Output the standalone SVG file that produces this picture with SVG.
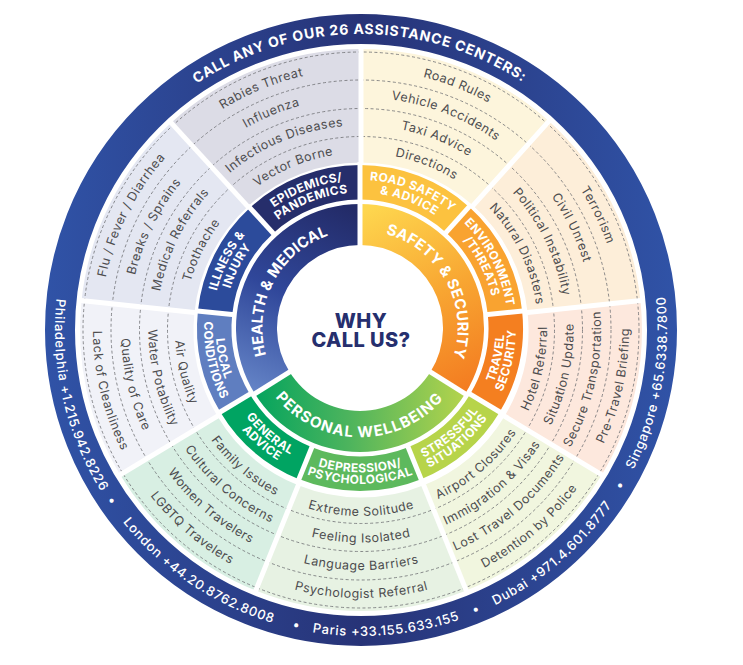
<svg xmlns="http://www.w3.org/2000/svg" xmlns:xlink="http://www.w3.org/1999/xlink" width="743" height="665" viewBox="0 0 743 665">
<defs>
<style>
text{font-family:Inter,'Liberation Sans','DejaVu Sans',sans-serif;text-anchor:middle}
.it{font-size:12.5px;fill:#4d4d4f;letter-spacing:0.5px}
.cat{font-size:12px;font-weight:700;fill:#fff;letter-spacing:0.4px}
.mn{font-size:15px;font-weight:700;fill:#fff;letter-spacing:0.2px}
.ph{font-size:13px;font-weight:500;fill:#fff;letter-spacing:0.7px}
.call{font-size:14px;font-weight:700;fill:#fff;letter-spacing:0.8px}
.why{font-size:20px;font-weight:800;fill:#262f6e;letter-spacing:0.4px}
.sec{fill:none;stroke-width:113.5}
.cb{fill:none;stroke-width:34.5}
.dash{fill:none;stroke:#6d6e72;stroke-width:0.8;stroke-dasharray:3 2.4}
.dv line{stroke:#fff;stroke-width:5}
</style>
<linearGradient id="gBlue" gradientUnits="userSpaceOnUse" x1="-316" y1="0" x2="316" y2="0">
<stop offset="0" stop-color="#3053a7"/><stop offset="0.5" stop-color="#273377"/><stop offset="1" stop-color="#3053a7"/>
</linearGradient>
<linearGradient id="gH" gradientUnits="userSpaceOnUse" x1="-10" y1="-120" x2="-100" y2="70">
<stop offset="0" stop-color="#232b68"/><stop offset="0.5" stop-color="#30479a"/><stop offset="1" stop-color="#6686c8"/>
</linearGradient>
<linearGradient id="gS" gradientUnits="userSpaceOnUse" x1="10" y1="-120" x2="100" y2="70">
<stop offset="0" stop-color="#fed64e"/><stop offset="0.5" stop-color="#f8a632"/><stop offset="1" stop-color="#f37a20"/>
</linearGradient>
<linearGradient id="gW" gradientUnits="userSpaceOnUse" x1="-110" y1="40" x2="110" y2="40">
<stop offset="0" stop-color="#00a35e"/><stop offset="0.45" stop-color="#4db45d"/><stop offset="1" stop-color="#b9d54b"/>
</linearGradient>
<path id="o296" d="M0,296A296,296 0 1 1 0,-296A296,296 0 1 1 0,296"/>
<path id="p306" d="M0,-306A306,306 0 1 0 0,306A306,306 0 1 0 0,-306"/>
<path id="a1" d="M0,260.5A260.5,260.5 0 1 1 0,-260.5A260.5,260.5 0 1 1 0,260.5"/>
<path id="b1" d="M0,232.5A232.5,232.5 0 1 1 0,-232.5A232.5,232.5 0 1 1 0,232.5"/>
<path id="c1" d="M0,204.5A204.5,204.5 0 1 1 0,-204.5A204.5,204.5 0 1 1 0,204.5"/>
<path id="d1" d="M0,177A177,177 0 1 1 0,-177A177,177 0 1 1 0,177"/>
<path id="a2" d="M0,-268A268,268 0 1 0 0,268A268,268 0 1 0 0,-268"/>
<path id="b2" d="M0,-240A240,240 0 1 0 0,240A240,240 0 1 0 0,-240"/>
<path id="c2" d="M0,-212.5A212.5,212.5 0 1 0 0,212.5A212.5,212.5 0 1 0 0,-212.5"/>
<path id="d2" d="M0,-186A186,186 0 1 0 0,186A186,186 0 1 0 0,-186"/>
<path id="m1" d="M0,97.7A97.7,97.7 0 1 1 0,-97.7A97.7,97.7 0 1 1 0,97.7"/>
<path id="m2" d="M0,-109.3A109.3,109.3 0 1 0 0,109.3A109.3,109.3 0 1 0 0,-109.3"/>
<path id="k1" d="M0,148A148,148 0 1 1 0,-148A148,148 0 1 1 0,148"/>
<path id="k2" d="M0,135.5A135.5,135.5 0 1 1 0,-135.5A135.5,135.5 0 1 1 0,135.5"/>
<path id="k3" d="M0,-144.35A144.35,144.35 0 1 0 0,144.35A144.35,144.35 0 1 0 0,-144.35"/>
<path id="k4" d="M0,-155.85A155.85,155.85 0 1 0 0,155.85A155.85,155.85 0 1 0 0,-155.85"/>
</defs>

<g id="outer-ring" transform="translate(361,330)">
<circle r="301" fill="none" stroke="url(#gBlue)" stroke-width="30"/>
<text class="call"><textPath href="#o296" xlink:href="#o296" startOffset="928">CALL ANY OF OUR 26 ASSISTANCE CENTERS:</textPath></text>
<text class="ph"><textPath href="#p306" xlink:href="#p306" startOffset="550.09">Philadelphia +1.215.942.8226</textPath></text>
<text class="ph"><textPath href="#p306" xlink:href="#p306" startOffset="664.38">•</textPath></text>
<text class="ph"><textPath href="#p306" xlink:href="#p306" startOffset="779.74">London +44.20.8762.8008</textPath></text>
<text class="ph"><textPath href="#p306" xlink:href="#p306" startOffset="895.1">•</textPath></text>
<text class="ph"><textPath href="#p306" xlink:href="#p306" startOffset="986.96">Paris +33.155.633.155</textPath></text>
<text class="ph"><textPath href="#p306" xlink:href="#p306" startOffset="1080.42">•</textPath></text>
<text class="ph"><textPath href="#p306" xlink:href="#p306" startOffset="1177.63">Dubai +971.4.601.8777</textPath></text>
<text class="ph"><textPath href="#p306" xlink:href="#p306" startOffset="1276.43">•</textPath></text>
<text class="ph"><textPath href="#p306" xlink:href="#p306" startOffset="1385.91">Singapore +65.6338.7800</textPath></text>
</g>

<g id="items" transform="translate(361,330)">
<g id="epidemics-items">
<circle class="sec" r="224.25" stroke="#dcdce6" stroke-dasharray="166.34 2000" transform="rotate(227.5)"/>
</g>
<g id="illness-items">
<circle class="sec" r="224.25" stroke="#e4e7f2" stroke-dasharray="162.43 2000" transform="rotate(186)"/>
</g>
<g id="local-items">
<circle class="sec" r="224.25" stroke="#f1f2f8" stroke-dasharray="144.82 2000" transform="rotate(149)"/>
</g>
<g id="general-items">
<circle class="sec" r="224.25" stroke="#d8efe3" stroke-dasharray="144.82 2000" transform="rotate(112)"/>
</g>
<g id="depression-items">
<circle class="sec" r="224.25" stroke="#e7f2e3" stroke-dasharray="172.21 2000" transform="rotate(68)"/>
</g>
<g id="stressful-items">
<circle class="sec" r="224.25" stroke="#f1f6df" stroke-dasharray="144.82 2000" transform="rotate(31)"/>
</g>
<g id="travel-items">
<circle class="sec" r="224.25" stroke="#fde8dd" stroke-dasharray="144.82 2000" transform="rotate(-6)"/>
</g>
<g id="environment-items">
<circle class="sec" r="224.25" stroke="#fdeed9" stroke-dasharray="164.38 2000" transform="rotate(-48)"/>
</g>
<g id="road-items">
<circle class="sec" r="224.25" stroke="#fdf5dc" stroke-dasharray="164.38 2000" transform="rotate(-90)"/>
</g>
<g id="dashes">
<circle class="dash" r="193.5"/><circle class="dash" r="221.5"/><circle class="dash" r="250"/><circle class="dash" r="278"/>
</g>
<g class="dv" id="dividers-outer">
<line y1="-165" y2="-284"/>
<line y1="-165" y2="-284" transform="rotate(42)"/>
<line y1="-165" y2="-284" transform="rotate(84)"/>
<line y1="-165" y2="-284" transform="rotate(121)"/>
<line y1="-165" y2="-284" transform="rotate(158)"/>
<line y1="-165" y2="-284" transform="rotate(202)"/>
<line y1="-165" y2="-284" transform="rotate(239)"/>
<line y1="-165" y2="-284" transform="rotate(276)"/>
<line y1="-165" y2="-284" transform="rotate(317.5)"/>
</g>
<g id="item-labels">
<text class="it"><textPath href="#a1" xlink:href="#a1" startOffset="716.09">Rabies Threat</textPath></text>
<text class="it"><textPath href="#b1" xlink:href="#b1" startOffset="639.12">Influenza</textPath></text>
<text class="it"><textPath href="#c1" xlink:href="#c1" startOffset="562.15">Infectious Diseases</textPath></text>
<text class="it"><textPath href="#d1" xlink:href="#d1" startOffset="486.55">Vector Borne</textPath></text>
<text class="it"><textPath href="#a1" xlink:href="#a1" startOffset="529.68">Flu / Fever / Diarrhea</textPath></text>
<text class="it"><textPath href="#b1" xlink:href="#b1" startOffset="472.74">Breaks / Sprains</textPath></text>
<text class="it"><textPath href="#c1" xlink:href="#c1" startOffset="415.81">Medical Referrals</textPath></text>
<text class="it"><textPath href="#d1" xlink:href="#d1" startOffset="359.9">Toothache</textPath></text>
<text class="it"><textPath href="#a1" xlink:href="#a1" startOffset="916.14">Road Rules</textPath></text>
<text class="it"><textPath href="#b1" xlink:href="#b1" startOffset="817.66">Vehicle Accidents</textPath></text>
<text class="it"><textPath href="#c1" xlink:href="#c1" startOffset="719.19">Taxi Advice</textPath></text>
<text class="it"><textPath href="#d1" xlink:href="#d1" startOffset="622.48">Directions</textPath></text>
<text class="it"><textPath href="#a1" xlink:href="#a1" startOffset="1109.37">Terrorism</textPath></text>
<text class="it"><textPath href="#b1" xlink:href="#b1" startOffset="990.13">Civil Unrest</textPath></text>
<text class="it"><textPath href="#c1" xlink:href="#c1" startOffset="870.88">Political Instability</textPath></text>
<text class="it"><textPath href="#d1" xlink:href="#d1" startOffset="753.77">Natural Disasters</textPath></text>
<text class="it"><textPath href="#a2" xlink:href="#a2" startOffset="484.12">Lack of Cleanliness</textPath></text>
<text class="it"><textPath href="#b2" xlink:href="#b2" startOffset="433.54">Quality of Care</textPath></text>
<text class="it"><textPath href="#c2" xlink:href="#c2" startOffset="383.86">Water Potability</textPath></text>
<text class="it"><textPath href="#d2" xlink:href="#d2" startOffset="335.99">Air Quality</textPath></text>
<text class="it"><textPath href="#a2" xlink:href="#a2" startOffset="1204.45">Pre-Travel Briefing</textPath></text>
<text class="it"><textPath href="#b2" xlink:href="#b2" startOffset="1078.61">Secure Transportation</textPath></text>
<text class="it"><textPath href="#c2" xlink:href="#c2" startOffset="955.02">Situation Update</textPath></text>
<text class="it"><textPath href="#d2" xlink:href="#d2" startOffset="835.92">Hotel Referral</textPath></text>
<text class="it"><textPath href="#a2" xlink:href="#a2" startOffset="1031.38">Detention by Police</textPath></text>
<text class="it"><textPath href="#b2" xlink:href="#b2" startOffset="923.63">Lost Travel Documents</textPath></text>
<text class="it"><textPath href="#c2" xlink:href="#c2" startOffset="817.79">Immigration &amp; Visas</textPath></text>
<text class="it"><textPath href="#d2" xlink:href="#d2" startOffset="715.81">Airport Closures</textPath></text>
<text class="it"><textPath href="#a2" xlink:href="#a2" startOffset="841.95">Psychologist Referral</textPath></text>
<text class="it"><textPath href="#b2" xlink:href="#b2" startOffset="753.98">Language Barriers</textPath></text>
<text class="it"><textPath href="#c2" xlink:href="#c2" startOffset="667.59">Feeling Isolated</textPath></text>
<text class="it"><textPath href="#d2" xlink:href="#d2" startOffset="584.34">Extreme Solitude</textPath></text>
<text class="it"><textPath href="#a2" xlink:href="#a2" startOffset="652.51">LGBTQ Travelers</textPath></text>
<text class="it"><textPath href="#b2" xlink:href="#b2" startOffset="584.34">Women Travelers</textPath></text>
<text class="it"><textPath href="#c2" xlink:href="#c2" startOffset="517.38">Cultural Concerns</textPath></text>
<text class="it"><textPath href="#d2" xlink:href="#d2" startOffset="452.86">Family Issues</textPath></text>
</g>
</g>

<g id="inner" transform="translate(360,328)">
<g id="health-medical">
<path fill="url(#gH)" d="M-105.16,65.71A124,124 0 0 1 0,-124L0,-83A83,83 0 0 0 -70.39,43.98Z"/>
<text class="mn"><textPath href="#m1" xlink:href="#m1" startOffset="200">HEALTH &amp; MEDICAL</textPath></text>
</g>
<g id="safety-security">
<path fill="url(#gS)" d="M0,-124A124,124 0 0 1 105.16,65.71L70.39,43.98A83,83 0 0 0 0,-83Z"/>
<text class="mn"><textPath href="#m1" xlink:href="#m1" startOffset="411">SAFETY &amp; SECURITY</textPath></text>
</g>
<g id="personal-wellbeing">
<path fill="url(#gW)" d="M105.16,65.71A124,124 0 0 1 -105.16,65.71L-70.39,43.98A83,83 0 0 0 70.39,43.98Z"/>
<text class="mn" style="letter-spacing:1.1px"><textPath href="#m2" xlink:href="#m2" startOffset="342.42">PERSONAL WELLBEING</textPath></text>
</g>
<g id="epidemics">
<circle class="cb" r="145.75" stroke="#262e6b" stroke-dasharray="108.11 2000" transform="rotate(227.5)"/>
<text class="cat"><textPath href="#k1" xlink:href="#k1" startOffset="410.07">EPIDEMICS/</textPath></text>
<text class="cat"><textPath href="#k2" xlink:href="#k2" startOffset="375.43">PANDEMICS</textPath></text>
</g>
<g id="illness-injury">
<circle class="cb" r="145.75" stroke="#2c4b9b" stroke-dasharray="105.57 2000" transform="rotate(186)"/>
<text class="cat"><textPath href="#k1" xlink:href="#k1" startOffset="301.58">ILLNESS &amp;</textPath></text>
<text class="cat"><textPath href="#k2" xlink:href="#k2" startOffset="276.1">INJURY</textPath></text>
</g>
<g id="local-conditions">
<circle class="cb" r="145.75" stroke="#5f7ec0" stroke-dasharray="94.12 2000" transform="rotate(149)"/>
<text class="cat"><textPath href="#k3" xlink:href="#k3" startOffset="258.24">LOCAL</textPath></text>
<text class="cat"><textPath href="#k4" xlink:href="#k4" startOffset="278.81">CONDITIONS</textPath></text>
</g>
<g id="general-advice">
<circle class="cb" r="145.75" stroke="#00a462" stroke-dasharray="94.12 2000" transform="rotate(112)"/>
<text class="cat"><textPath href="#k3" xlink:href="#k3" startOffset="351.45">GENERAL</textPath></text>
<text class="cat"><textPath href="#k4" xlink:href="#k4" startOffset="379.45">ADVICE</textPath></text>
</g>
<g id="depression">
<circle class="cb" r="145.75" stroke="#5db95d" stroke-dasharray="111.93 2000" transform="rotate(68)"/>
<text class="cat"><textPath href="#k3" xlink:href="#k3" startOffset="453.49">DEPRESSION/</textPath></text>
<text class="cat"><textPath href="#k4" xlink:href="#k4" startOffset="489.62">PSYCHOLOGICAL</textPath></text>
</g>
<g id="stressful-situations">
<circle class="cb" r="145.75" stroke="#b7d44a" stroke-dasharray="94.12 2000" transform="rotate(31)"/>
<text class="cat"><textPath href="#k3" xlink:href="#k3" startOffset="555.53">STRESSFUL</textPath></text>
<text class="cat"><textPath href="#k4" xlink:href="#k4" startOffset="599.78">SITUATIONS</textPath></text>
</g>
<g id="travel-security">
<circle class="cb" r="145.75" stroke="#f47f20" stroke-dasharray="94.12 2000" transform="rotate(-6)"/>
<text class="cat"><textPath href="#k3" xlink:href="#k3" startOffset="648.74">TRAVEL</textPath></text>
<text class="cat"><textPath href="#k4" xlink:href="#k4" startOffset="700.43">SECURITY</textPath></text>
</g>
<g id="environment-threats">
<circle class="cb" r="145.75" stroke="#f9a330" stroke-dasharray="106.84 2000" transform="rotate(-48)"/>
<text class="cat"><textPath href="#k1" xlink:href="#k1" startOffset="627.69">ENVIRONMENT</textPath></text>
<text class="cat"><textPath href="#k2" xlink:href="#k2" startOffset="574.68">/THREATS</textPath></text>
</g>
<g id="road-safety">
<circle class="cb" r="145.75" stroke="#fcc23f" stroke-dasharray="106.84 2000" transform="rotate(-90)"/>
<text class="cat"><textPath href="#k1" xlink:href="#k1" startOffset="519.2">ROAD SAFETY</textPath></text>
<text class="cat"><textPath href="#k2" xlink:href="#k2" startOffset="475.35">&amp; ADVICE</textPath></text>
</g>
<g class="dv" id="dividers-inner">
<line y1="-126" y2="-166"/>
<line y1="-126" y2="-166" transform="rotate(42)"/>
<line y1="-126" y2="-166" transform="rotate(84)"/>
<line y1="-126" y2="-166" transform="rotate(121)"/>
<line y1="-126" y2="-166" transform="rotate(158)"/>
<line y1="-126" y2="-166" transform="rotate(202)"/>
<line y1="-126" y2="-166" transform="rotate(239)"/>
<line y1="-126" y2="-166" transform="rotate(276)"/>
<line y1="-126" y2="-166" transform="rotate(317.5)"/>
<line y1="-80" y2="-127"/>
<line y1="-80" y2="-127" transform="rotate(122)"/>
<line y1="-80" y2="-127" transform="rotate(238)"/>
</g>
</g>

<g id="center">
<text class="why" x="361" y="328">WHY</text>
<text class="why" x="361" y="347">CALL US?</text>
</g>
</svg>
